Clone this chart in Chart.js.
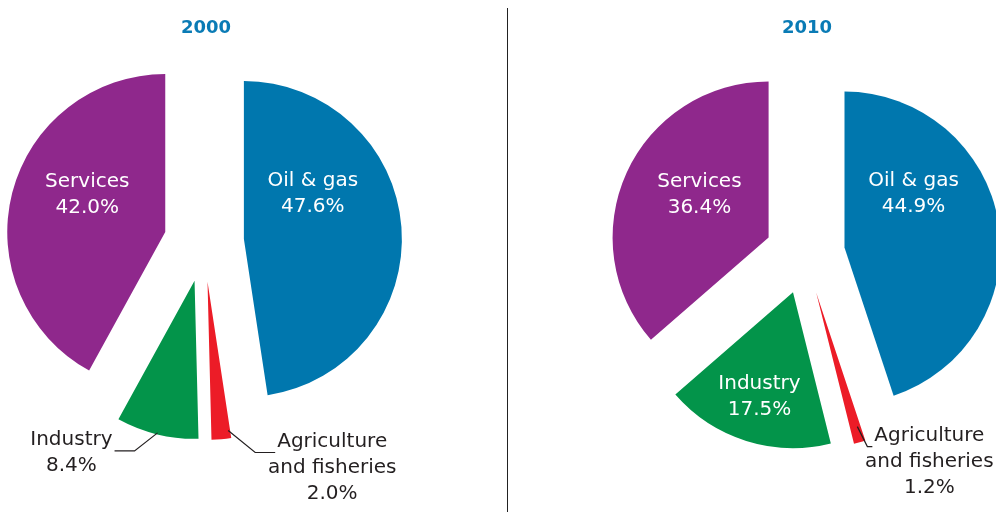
<!DOCTYPE html>
<html>
<head>
<meta charset="utf-8">
<script src="https://cdn.jsdelivr.net/npm/chart.js@4.4.1/dist/chart.umd.min.js"></script>
<style>
  html, body { margin: 0; padding: 0; background: #fff; }
  #wrap { position: relative; width: 996px; height: 512px; overflow: hidden; }
  #wrap canvas { position: absolute; left: 0; top: 0; }
  #divider { position: absolute; left: 507px; top: 8px; width: 1px; height: 504px; background: #222; }
</style>
</head>
<body>
<div id="wrap">
  <canvas id="pie2000" width="996" height="512"></canvas>
  <canvas id="pie2010" width="996" height="512"></canvas>
  <div id="divider"></div>
</div>
<script>
// GDP by sector, share of total (%)
const categories = ['Oil & gas', 'Agriculture and fisheries', 'Industry', 'Services'];
const labelLines = [['Oil & gas'], ['Agriculture', 'and fisheries'], ['Industry'], ['Services']];
const years = ['2000', '2010'];
const shares2000 = [47.6, 2.0, 8.4, 42.0];
const shares2010 = [44.9, 1.2, 17.5, 36.4];

const sliceColors = ['#0077ae', '#ec1c27', '#03944a', '#8f288c'];
const titleColor = '#0a7bb5';
const inkColor = '#231f20';
const FONT = '"DejaVu Sans", sans-serif';

// label placement: inside = angle (deg from 12 o'clock) + distance from the slice tip,
// outside = leader line from a point on the slice out to one side
const spots2000 = [
  { angle: 50, dist: 90 },
  { side: 1, at: 0.1, r: 0.95, dx: 27, dy: 22, run: 20 },
  { side: -1, at: 0.5, r: 0.99, dx: 23, dy: 18, run: 20 },
  { angle: 303, dist: 93 }
];
const spots2010 = [
  { angle: 46, dist: 96 },
  { side: 1, at: 0.3, r: 0.9, dx: 10, dy: 20, run: 5 },
  { angle: 200, dist: 98 },
  { angle: 309, dist: 89 }
];

// push every slice out from the centre along its middle angle
const explodePlugin = {
  id: 'explode',
  beforeDatasetsDraw(chart, args, opts) {
    const a = chart.chartArea;
    const cx = (a.left + a.right) / 2, cy = (a.top + a.bottom) / 2;
    chart.getDatasetMeta(0).data.forEach(arc => {
      const mid = (arc.startAngle + arc.endAngle) / 2;
      arc.x = cx + Math.cos(mid) * opts.distance;
      arc.y = cy + Math.sin(mid) * opts.distance;
    });
  }
};

const sliceLabelPlugin = {
  id: 'sliceLabels',
  afterDatasetsDraw(chart, args, opts) {
    const ctx = chart.ctx;
    const values = chart.data.datasets[0].data;
    const lh = 26;
    ctx.save();
    ctx.font = '20px ' + FONT;
    ctx.textBaseline = 'middle';
    chart.getDatasetMeta(0).data.forEach((arc, i) => {
      const spot = opts.spots[i];
      const lines = labelLines[i].concat(values[i].toFixed(1) + '%');
      if (spot.side === undefined) {
        const t = spot.angle * Math.PI / 180;
        const x = arc.x + Math.sin(t) * spot.dist;
        const y = arc.y - Math.cos(t) * spot.dist;
        ctx.fillStyle = '#fff';
        ctx.textAlign = 'center';
        lines.forEach((s, k) => ctx.fillText(s, x, y + k * lh));
        return;
      }
      const ang = arc.startAngle + (arc.endAngle - arc.startAngle) * spot.at;
      const rr = arc.outerRadius * spot.r;
      const sx = arc.x + Math.cos(ang) * rr, sy = arc.y + Math.sin(ang) * rr;
      const ex = sx + spot.side * spot.dx, ey = sy + spot.dy;
      const hx = ex + spot.side * spot.run;
      ctx.strokeStyle = inkColor;
      ctx.lineWidth = 1.2;
      ctx.beginPath();
      ctx.moveTo(sx, sy);
      ctx.lineTo(ex, ey);
      ctx.lineTo(hx, ey);
      ctx.stroke();
      const w1 = ctx.measureText(lines[0]).width;
      const cx = hx + spot.side * (2 + w1 / 2);
      ctx.fillStyle = inkColor;
      ctx.textAlign = 'center';
      lines.forEach((s, k) => ctx.fillText(s, cx, ey - 11 + k * lh));
    });
    ctx.restore();
  }
};

const yearTitlePlugin = {
  id: 'yearTitle',
  afterDraw(chart, args, opts) {
    const a = chart.chartArea;
    const ctx = chart.ctx;
    ctx.save();
    ctx.font = 'bold 18px ' + FONT;
    ctx.fillStyle = titleColor;
    ctx.textAlign = 'center';
    ctx.textBaseline = 'middle';
    ctx.fillText(opts.text, (a.left + a.right) / 2 + opts.shift, 28);
    ctx.restore();
  }
};

function makePie(canvasId, year, shares, spots, padding, radius) {
  return new Chart(document.getElementById(canvasId), {
    type: 'pie',
    data: {
      labels: categories,
      datasets: [{
        data: shares,
        backgroundColor: sliceColors,
        borderWidth: 0
      }]
    },
    options: {
      responsive: false,
      animation: false,
      events: [],
      radius: radius,
      layout: { padding: padding },
      plugins: {
        legend: { display: false },
        tooltip: { enabled: false },
        explode: { distance: 40 },
        sliceLabels: { spots: spots },
        yearTitle: { text: year, shift: 2 }
      }
    },
    plugins: [explodePlugin, sliceLabelPlugin, yearTitlePlugin]
  });
}

makePie('pie2000', years[0], shares2000, spots2000, { left: 0, right: 588, top: 0, bottom: 28 }, 158);
makePie('pie2010', years[1], shares2010, spots2010, { left: 614, right: 0, top: 0, bottom: 4 }, 156);
</script>
</body>
</html>
